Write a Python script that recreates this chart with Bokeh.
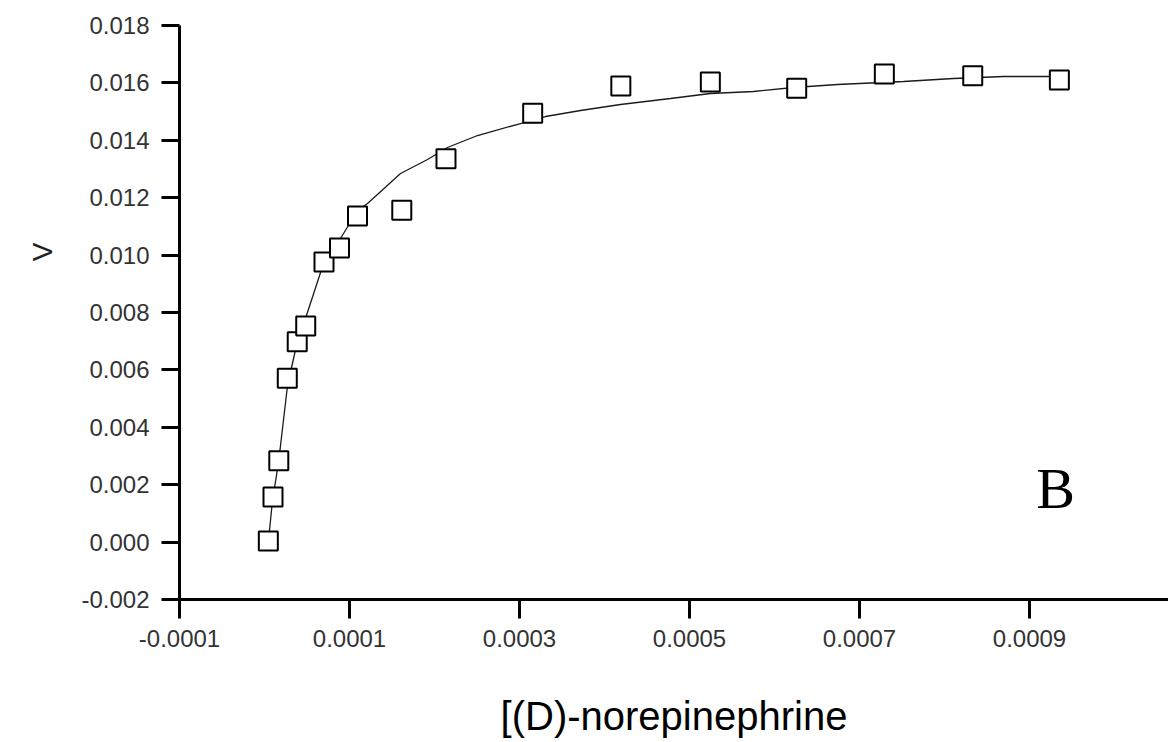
import math
from bokeh.plotting import figure
from bokeh.models import Range1d, FixedTicker, PrintfTickFormatter, Label, ColumnDataSource, Title
from bokeh.embed import file_html
from bokeh.resources import INLINE

# ---- data ----
conc = [4.5e-6, 1.00e-5, 1.68e-5, 2.68e-5, 3.85e-5, 4.85e-5, 7.00e-5, 8.82e-5,
        1.094e-4, 1.615e-4, 2.135e-4, 3.155e-4, 4.192e-4, 5.245e-4, 6.261e-4,
        7.292e-4, 8.332e-4, 9.351e-4]
velocity = [0.00004, 0.001571, 0.002836, 0.005711, 0.006983, 0.007530, 0.009760,
            0.010247, 0.011362, 0.011564, 0.013355, 0.014941, 0.015892, 0.016031,
            0.015812, 0.016310, 0.016247, 0.016101]

fit_x = [0.047e-4, 0.094e-4, 0.165e-4, 0.271e-4, 0.376e-4, 0.482e-4, 0.694e-4,
         0.894e-4, 1.094e-4, 1.212e-4, 1.600e-4, 1.918e-4, 2.153e-4, 2.506e-4,
         3.012e-4, 3.306e-4, 3.718e-4, 4.188e-4, 4.776e-4, 5.247e-4, 5.753e-4,
         6.224e-4, 6.741e-4, 7.518e-4, 8.106e-4, 8.694e-4, 9.341e-4]
fit_y = [0.000056, 0.001449, 0.002774, 0.005456, 0.006850, 0.007791, 0.009707,
         0.010578, 0.011554, 0.011798, 0.012843, 0.013331, 0.013749, 0.014167,
         0.014585, 0.014829, 0.015038, 0.015247, 0.015456, 0.015631, 0.015700,
         0.015840, 0.015944, 0.016049, 0.016153, 0.016223, 0.016223]

x_ticks = [-0.0001, 0.0001, 0.0003, 0.0005, 0.0007, 0.0009]
y_ticks = [-0.002, 0.000, 0.002, 0.004, 0.006, 0.008, 0.010, 0.012, 0.014, 0.016, 0.018]

x_label = "[(D)-norepinephrine"
y_label = "V"
panel_label = "B"

# ---- figure ----
p = figure(frame_width=989, frame_height=574,
           min_border_left=179, min_border_top=25, min_border_right=0, min_border_bottom=143,
           x_range=Range1d(-0.0001, 0.0010635), y_range=Range1d(-0.002, 0.018),
           output_backend="svg", toolbar_location=None)
p.background_fill_color = "white"
p.border_fill_color = "white"
p.outline_line_color = None
p.xgrid.visible = False
p.ygrid.visible = False

for ax in (p.xaxis[0], p.yaxis[0]):
    ax.axis_line_width = 3
    ax.axis_line_color = "black"
    ax.major_tick_line_width = 3
    ax.major_tick_line_color = "black"
    ax.major_tick_in = 0
    ax.minor_tick_line_color = None
    ax.major_label_text_font = "Liberation Sans"
    ax.major_label_text_font_size = "24px"
    ax.major_label_text_color = "#333333"

p.xaxis.ticker = FixedTicker(ticks=x_ticks)
p.xaxis.formatter = PrintfTickFormatter(format="%.4f")
p.xaxis.major_tick_out = 19
p.xaxis.major_label_standoff = 11
p.xaxis.axis_label = x_label
p.xaxis.axis_label_text_font = "Liberation Sans"
p.xaxis.axis_label_text_font_size = "40px"
p.xaxis.axis_label_text_font_style = "normal"
p.xaxis.axis_label_text_color = "black"
p.xaxis.axis_label_standoff = 44

p.yaxis.ticker = FixedTicker(ticks=y_ticks)
p.yaxis.formatter = PrintfTickFormatter(format="%.3f")
p.yaxis.major_tick_out = 18
p.yaxis.major_label_standoff = 12

# y axis label as a title in the left panel, shifted up like the reference
p.add_layout(Title(text=y_label, align="right", offset=217, standoff=42,
                   text_font="Liberation Sans", text_font_size="28px",
                   text_font_style="normal", text_color="#222222"), "left")

# fitted curve
p.line(fit_x, fit_y, line_color="#1a1a1a", line_width=1.3)

# data points
src = ColumnDataSource(dict(x=conc, y=velocity))
p.scatter("x", "y", source=src, marker="square", size=19,
          fill_color="white", line_color="black", line_width=2)

# panel letter
p.add_layout(Label(x=0.000908, y=0.00187, text=panel_label,
                   text_font="Liberation Serif", text_font_size="58px",
                   text_align="left", text_baseline="alphabetic", text_color="black"))

open("out.html", "w").write(file_html(p, INLINE))
